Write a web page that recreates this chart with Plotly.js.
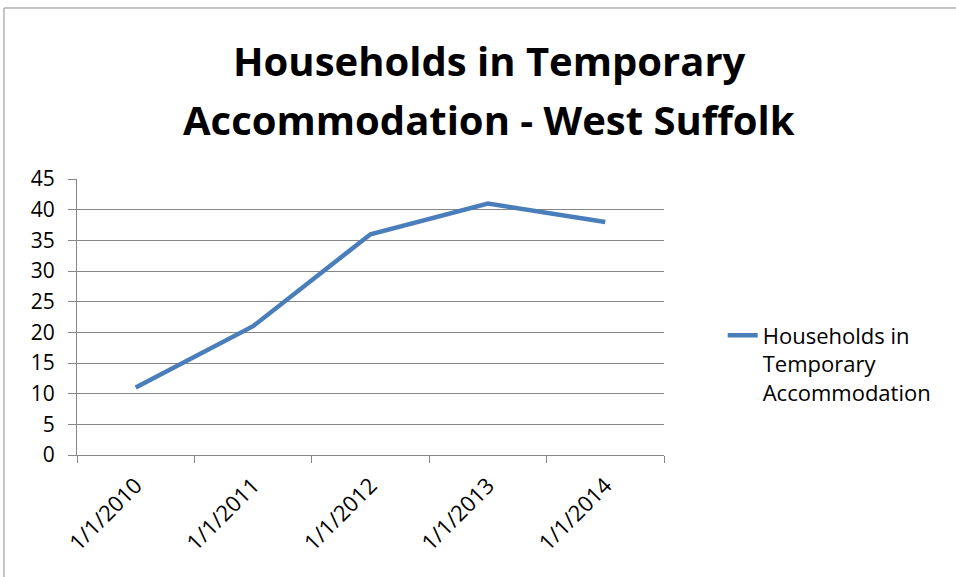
<!DOCTYPE html>
<html>
<head>
<meta charset="utf-8">
<script src="https://cdn.plot.ly/plotly-3.0.1.min.js"></script>
<style>html,body{margin:0;padding:0;background:#fff;}#chart{width:956px;height:577px;}</style>
</head>
<body>
<div id="chart"></div>
<script>
const categories = ["1/1/2010", "1/1/2011", "1/1/2012", "1/1/2013", "1/1/2014"];
const households = [11, 21, 36, 41, 38];
const seriesName = "Households in<br>Temporary<br>Accommodation";
const titleLines = ["Households in Temporary", "Accommodation - West Suffolk"];
const yTicks = [0, 5, 10, 15, 20, 25, 30, 35, 40, 45];

const trace = {
  x: categories,
  y: households,
  type: "scatter",
  mode: "lines",
  name: seriesName,
  line: {color: "#4A7EBB", width: 4.5}
};

const titleFont = {family: "Open Sans, sans-serif", size: 40, weight: "bold", color: "#000"};

const layout = {
  width: 956, height: 577,
  margin: {l: 77, r: 292, t: 179, b: 122},
  paper_bgcolor: "#fff", plot_bgcolor: "#fff",
  font: {family: "Open Sans, sans-serif", color: "#000", size: 21},
  xaxis: {
    type: "category",
    range: [-0.5, 4.5],
    tickson: "boundaries",
    ticks: "outside", ticklen: 7, tickcolor: "#868686", tickwidth: 1,
    showgrid: false,
    showline: true, linecolor: "#868686", linewidth: 1,
    tickangle: -45,
    tickfont: {size: 22},
    ticklabelstandoff: 8,
    zeroline: false
  },
  yaxis: {
    range: [0, 45],
    tickvals: yTicks,
    ticks: "outside", ticklen: 8, tickcolor: "#868686", tickwidth: 1,
    showgrid: true, gridcolor: "#868686", gridwidth: 1,
    showline: true, linecolor: "#868686", linewidth: 1,
    zeroline: false,
    tickfont: {size: 21},
    ticklabelstandoff: 9
  },
  showlegend: true,
  legend: {
    x: 1.1, xanchor: "left",
    y: 0.33, yanchor: "middle",
    valign: "top",
    font: {size: 22},
    bgcolor: "rgba(0,0,0,0)"
  },
  annotations: [
    {text: titleLines[0], xref: "paper", yref: "paper", x: 0.702, y: 1.431,
     xanchor: "center", yanchor: "middle", showarrow: false, font: titleFont},
    {text: titleLines[1], xref: "paper", yref: "paper", x: 0.702, y: 1.217,
     xanchor: "center", yanchor: "middle", showarrow: false, font: titleFont}
  ],
  shapes: [{
    type: "rect", xref: "paper", yref: "paper",
    x0: -0.1244, x1: 1.6, y0: -0.6, y1: 1.6196,
    line: {color: "#8a8a8a", width: 1}
  }]
};

Plotly.newPlot("chart", [trace], layout, {displayModeBar: false, staticPlot: true});
</script>
</body>
</html>
